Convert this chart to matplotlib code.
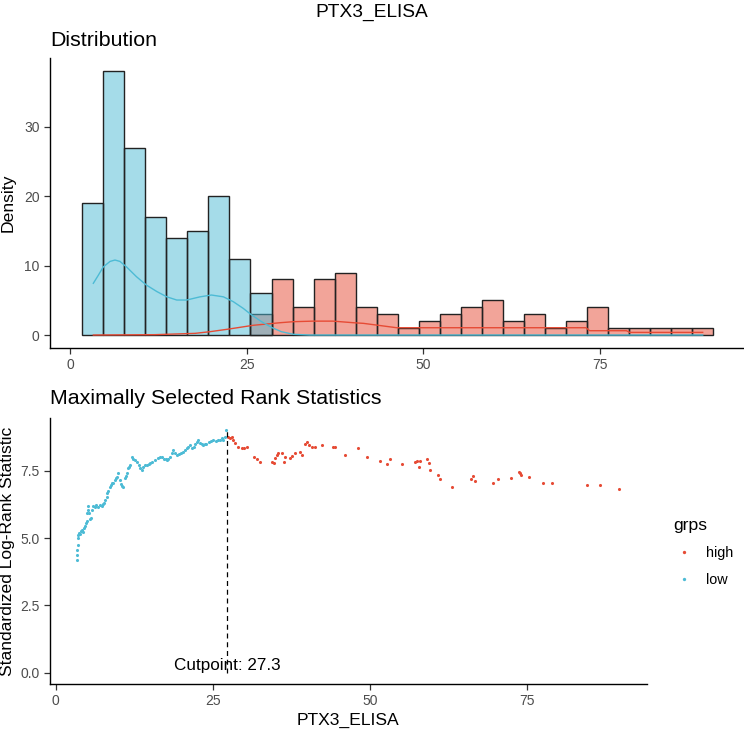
import matplotlib
matplotlib.use("Agg")
import matplotlib.pyplot as plt
import numpy as np
from matplotlib.lines import Line2D

plt.rcParams['font.family'] = ['Liberation Sans', 'DejaVu Sans']

# histogram: 30 bins between min and max of PTX3_ELISA
x_min, x_max = 1.74, 90.95
n_bins = 30
low_counts = [19, 38, 27, 17, 14, 15, 20, 11, 6] + [0] * 21
high_counts = [0] * 8 + [3, 8, 4, 8, 9, 4, 3, 1, 2, 3, 4, 5, 2, 3, 1, 2, 4, 1, 1, 1, 1, 1]

# density curves (scaled)
low_dens_x = [3.3, 4.0, 4.7, 5.66, 6.36, 7.07, 8.0, 9.4, 10.8, 12.3, 13.7, 15.1, 16.5,
              18.4, 20.0, 21.7, 23.1, 24.5, 25.7, 27.1, 28.5, 29.9, 31.6, 33.9, 89.5]
low_dens_y = [7.45, 8.6, 9.8, 10.6, 10.8, 10.6, 9.8, 8.4, 7.2, 6.25, 5.5, 5.04, 5.04,
              5.5, 5.76, 5.5, 4.8, 3.84, 2.88, 1.92, 1.1, 0.48, 0.1, 0.0, 0.0]
high_dens_x = [3.3, 12.0, 17.7, 19.8, 22.2, 24.0, 25.9, 27.8, 29.7, 31.6, 34.4, 37.2,
               40.1, 41.5, 43.3, 46.2, 73.0, 73.5, 78.7, 79.2, 89.5]
high_dens_y = [0.0, 0.05, 0.24, 0.48, 0.82, 1.1, 1.4, 1.58, 1.77, 1.92, 2.0, 2.0,
               1.77, 1.68, 1.44, 1.05, 1.05, 0.62, 0.62, 0.38, 0.38]

# maximally selected rank statistics
low_x = [3.35, 3.40, 3.45, 3.50, 3.55, 3.60, 3.75, 3.90, 4.05, 4.20, 4.35, 4.50, 4.65,
         4.80, 4.95, 5.06, 5.15, 5.20, 5.30, 5.50, 5.65, 5.80, 6.00, 6.30, 6.50, 6.70,
         7.00, 7.30, 7.50, 7.70, 7.90, 8.10, 8.25, 8.40, 8.60, 8.75, 8.90, 9.10, 9.40,
         9.55, 9.70, 9.97, 10.20, 10.45, 10.60, 10.80, 11.00, 11.15, 11.30, 11.50, 11.65,
         11.80, 12.10, 12.35, 12.60, 12.90, 13.20, 13.50, 13.70, 13.90, 14.20, 14.50,
         14.80, 15.10, 15.40, 15.80, 16.30, 16.60, 16.90, 17.20, 17.50, 17.70, 17.95,
         18.20, 18.50, 18.70, 19.00, 19.30, 19.60, 19.90, 20.30, 20.60, 20.90, 21.15,
         21.40, 21.70, 22.00, 22.25, 22.50, 22.70, 23.00, 23.25, 23.50, 23.80, 24.00,
         24.40, 24.80, 25.10, 25.50, 25.80, 26.20, 26.45, 26.70, 27.00, 27.20]
low_y = [4.18, 4.37, 4.55, 4.74, 5.00, 5.11, 5.20, 5.15, 5.25, 5.30, 5.22, 5.38, 5.45,
         5.55, 5.62, 5.93, 6.05, 6.20, 5.95, 5.70, 5.75, 6.05, 6.20, 6.16, 6.22, 6.15,
         6.22, 6.18, 6.25, 6.30, 6.40, 6.54, 6.66, 6.75, 6.90, 6.98, 7.03, 7.05, 7.16,
         7.22, 7.28, 7.40, 7.16, 7.00, 6.95, 6.90, 7.22, 7.30, 7.40, 7.60, 7.65,
         7.71, 8.02, 7.95, 7.90, 7.84, 7.71, 7.60, 7.53, 7.65, 7.70, 7.71,
         7.75, 7.80, 7.84, 7.90, 7.96, 8.00, 8.02, 7.95, 7.92, 7.90, 7.95,
         8.00, 8.15, 8.27, 8.15, 8.08, 8.12, 8.15, 8.20, 8.28, 8.33, 8.40,
         8.46, 8.33, 8.38, 8.50, 8.58, 8.64, 8.55, 8.50, 8.46, 8.48, 8.50,
         8.56, 8.60, 8.64, 8.62, 8.66, 8.64, 8.70, 8.66, 8.75, 9.01]
high_x = [27.50, 27.75, 28.00, 28.30, 28.55, 29.10, 29.60, 30.00, 30.40, 31.50, 32.00,
          32.50, 34.40, 34.70, 34.90, 35.20, 35.40, 36.00, 36.30, 36.50, 37.30, 37.70,
          38.10, 38.90, 39.20, 39.70, 40.00, 40.30, 40.80, 41.30, 42.40, 44.20, 44.50,
          46.10, 48.20, 49.50, 51.60, 52.80, 53.30, 55.10, 57.20, 57.50, 57.90, 58.00,
          59.10, 59.40, 59.60, 60.80, 61.20, 63.10, 66.20, 66.50, 66.80, 69.70, 70.40,
          72.50, 73.80, 74.00, 74.10, 75.40, 77.60, 79.00, 84.60, 86.70, 89.70]
high_y = [8.76, 8.72, 8.76, 8.64, 8.52, 8.40, 8.36, 8.33, 8.40, 8.02, 7.92,
          7.84, 7.84, 7.78, 7.97, 8.08, 8.15, 8.15, 7.84, 8.02, 7.97, 8.05,
          8.15, 8.20, 8.08, 8.50, 8.56, 8.45, 8.40, 8.40, 8.46, 8.40, 8.40,
          8.08, 8.33, 8.00, 7.87, 7.74, 7.92, 7.74, 7.84, 7.87, 7.65, 7.87,
          7.92, 7.80, 7.53, 7.34, 7.18, 6.88, 7.18, 7.30, 7.12, 7.03, 7.20,
          7.25, 7.46, 7.40, 7.33, 7.28, 7.06, 7.06, 6.97, 6.97, 6.81]
cutpoint = 27.3

red = '#E64B35'
blue = '#4DBBD5'
tick_col = '#4D4D4D'

fig = plt.figure(figsize=(7.44, 7.31), dpi=100)
ax1 = fig.add_axes([50 / 744, 383 / 731, 693 / 744, 290 / 731])
ax2 = fig.add_axes([50 / 744, 47 / 731, 596.7 / 744, 265.7 / 731])

edges = np.linspace(x_min, x_max, n_bins + 1)
width = edges[1] - edges[0]
for counts, col in [(high_counts, red), (low_counts, blue)]:
    c = np.array(counts)
    m = c > 0
    ax1.bar(edges[:-1][m], c[m], width=width, align='edge', color=col, alpha=0.5,
            edgecolor='none')
    ax1.bar(edges[:-1][m], c[m], width=width, align='edge', fill=False,
            edgecolor='#222222', linewidth=1.0)
ax1.plot(high_dens_x, high_dens_y, color=red, lw=1.0)
ax1.plot(low_dens_x, low_dens_y, color=blue, lw=1.0)
ax1.set_xlim(-2.83, 95.2)
ax1.set_ylim(-1.87, 39.9)
ax1.set_xticks([0, 25, 50, 75])
ax1.set_yticks([0, 10, 20, 30])
ax1.set_ylabel('Density', fontsize=12.6, labelpad=6)
ax1.set_title('Distribution', loc='left', fontsize=15.4, pad=9)

ax2.scatter(high_x, high_y, s=5, color=red, linewidths=0)
ax2.scatter(low_x, low_y, s=5, color=blue, linewidths=0)
ax2.plot([cutpoint, cutpoint], [0, max(low_y + high_y)], color='black', lw=0.9,
         ls=(0, (4, 3)))
ax2.text(cutpoint, 0, 'Cutpoint: 27.3', ha='center', va='bottom', fontsize=12.3)
ax2.set_xlim(-0.9, 94.1)
ax2.set_ylim(-0.42, 9.45)
ax2.set_xticks([0, 25, 50, 75])
ax2.set_yticks([0.0, 2.5, 5.0, 7.5])
ax2.set_yticklabels(['0.0', '2.5', '5.0', '7.5'])
ax2.set_xlabel('PTX3_ELISA', fontsize=12.6, labelpad=3)
ax2.set_ylabel('Standardized Log-Rank Statistic', fontsize=12.6, labelpad=4)
ax2.set_title('Maximally Selected Rank Statistics', loc='left', fontsize=15.4, pad=10)

for ax in (ax1, ax2):
    for s in ('top', 'right'):
        ax.spines[s].set_visible(False)
    for s in ('left', 'bottom'):
        ax.spines[s].set_color('black')
        ax.spines[s].set_linewidth(1.0)
    ax.tick_params(colors='#333333', labelcolor=tick_col, labelsize=10, length=4, width=0.9)

fig.text(372 / 744, 1 - 12 / 731, 'PTX3_ELISA', ha='center', va='center', fontsize=13.8)

handles = [Line2D([], [], ls='', marker='o', markersize=2.4, color=red, markeredgewidth=0),
           Line2D([], [], ls='', marker='o', markersize=2.4, color=blue, markeredgewidth=0)]
leg = fig.legend(handles, ['high', 'low'], title='grps', loc='upper left',
                 bbox_to_anchor=(660 / 744, 1 - 505 / 731), frameon=False,
                 fontsize=10.4, title_fontsize=12.6, handlelength=1.5,
                 handletextpad=0.8, labelspacing=0.9, alignment='left')

fig.savefig('out.png', dpi=100)
